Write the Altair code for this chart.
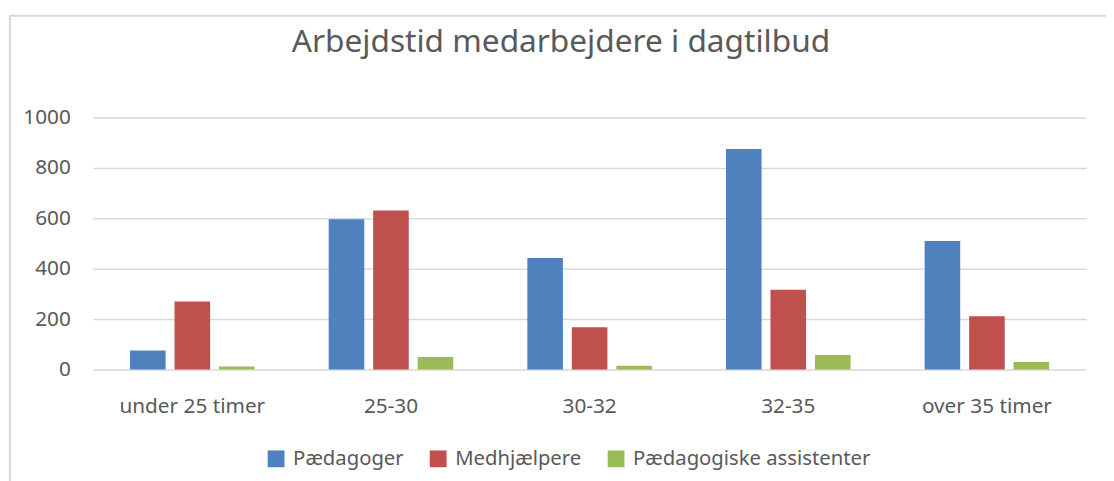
import altair as alt
import pandas as pd

categories = ["under 25 timer", "25-30", "30-32", "32-35", "over 35 timer"]
series = ["Pædagoger", "Medhjælpere", "Pædagogiske assistenter"]
paedagoger = [75, 596, 443, 875, 510]
medhjaelpere = [270, 631, 168, 317, 211]
assistenter = [12, 50, 15, 58, 30]
colors = ["#4F81BD", "#C0504D", "#9BBB59"]

rows = []
for s, vals in zip(series, [paedagoger, medhjaelpere, assistenter]):
    for c, v in zip(categories, vals):
        rows.append({"Kategori": c, "Gruppe": s, "Antal": v})
df = pd.DataFrame(rows)

FONT = "Noto Sans"
TXT = "#595959"

bars = alt.Chart(df).mark_bar().encode(
    x=alt.X("Kategori:N", sort=categories, title=None,
            scale=alt.Scale(paddingInner=0.373, paddingOuter=0.1865),
            axis=alt.Axis(labelAngle=0, domain=False, ticks=False, labelPadding=27,
                          labelFontSize=21, labelColor=TXT, labelFont=FONT)),
    xOffset=alt.XOffset("Gruppe:N", sort=series,
                        scale=alt.Scale(paddingInner=0.2, paddingOuter=0)),
    y=alt.Y("Antal:Q", title=None,
            scale=alt.Scale(domain=[0, 1000], nice=False),
            axis=alt.Axis(values=[0, 200, 400, 600, 800, 1000], format="d",
                          domain=False, ticks=False,
                          labelPadding=23, labelFontSize=21, labelColor=TXT, labelFont=FONT,
                          gridColor="#d9d9d9", gridWidth=1.5)),
    color=alt.Color("Gruppe:N", sort=series,
                    scale=alt.Scale(domain=series, range=colors),
                    legend=alt.Legend(title=None, orient="none", direction="horizontal",
                                      legendX=175, legendY=335, columns=3,
                                      symbolType="square", symbolSize=289,
                                      symbolStrokeWidth=0, labelFontSize=20.5,
                                      labelColor=TXT, labelFont=FONT, labelLimit=400,
                                      labelOffset=7, columnPadding=24)),
)

border = alt.Chart(pd.DataFrame({"a": [0]})).mark_rect(
    fillOpacity=0, stroke="#d9d9d9", strokeWidth=2
).encode(
    x=alt.value(-84), x2=alt.value(1029), y=alt.value(-103), y2=alt.value(400)
)

chart = alt.layer(border, bars).properties(
    width=1005,
    height=255,
    title=alt.TitleParams("Arbejdstid medarbejdere i dagtilbud", fontSize=32,
                          font=FONT, fontWeight="normal", color=TXT,
                          anchor="middle", dx=-29, offset=-70, baseline="alphabetic"),
    autosize=alt.AutoSizeParams(type="none"),
    padding={"left": 86, "top": 108, "right": 20, "bottom": 110},
).configure_view(stroke=None)

chart.save("out.html", embed_options={"renderer": "svg", "actions": False})
